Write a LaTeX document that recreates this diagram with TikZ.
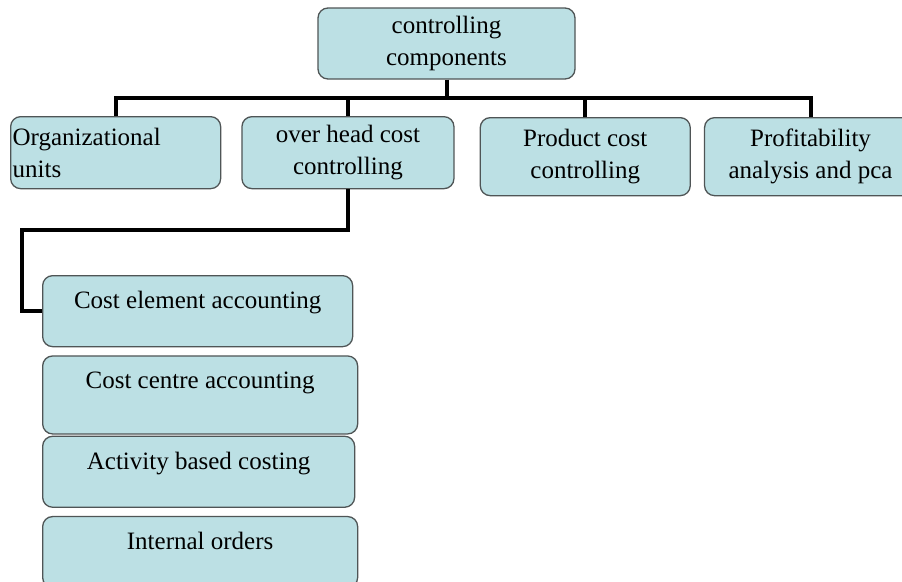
\documentclass[tikz,border=0pt]{standalone}
\usepackage{fontspec}
\setmainfont{Liberation Serif}
\usepackage{tikz}
\usetikzlibrary{positioning}
\definecolor{Slate}{HTML}{4F5556}
\definecolor{Ice}{HTML}{BCE0E4}
\colorlet{boxline}{Slate}
\colorlet{boxfill}{Ice}

\begin{document}
\begin{tikzpicture}[x=1pt,y=1pt,every node/.style={font=\fontsize{25}{32}\selectfont,align=center},
box/.style={draw=boxline,fill=boxfill,line width=1.3pt,rounded corners=10pt,inner sep=2pt},
stackbox/.style={box,minimum width=#1,text height=29pt,inner ysep=4pt,anchor=north west},
link/.style={line width=4pt}]
\clip (0,0) rectangle (902,-581);
\node[box,minimum width=257pt,minimum height=71pt] (ctrl) at (446.5,-43.5) {controlling\\components};
\node[box,align=left,text width=206pt,minimum height=72pt,anchor=north west] (org) at (10,-116) {Organizational\\units};
\node[box,minimum width=212pt,minimum height=72pt,right=20pt of org.north east,anchor=north west] (ohc) {over head cost\\controlling};
\node[box,minimum width=210pt,minimum height=78pt,right=25pt of ohc.north east,anchor=north west,yshift=-1pt] (pcc) {Product cost\\controlling};
\node[box,minimum width=212pt,minimum height=78pt,right=13pt of pcc.north east,anchor=north west] (pa) {Profitability\\analysis and pca};
\node[stackbox=310pt,text depth=34pt] (cea) at (42,-275) {Cost element accounting};
\node[stackbox=315pt,text depth=41pt,below=8pt of cea.south west,anchor=north west] (cca) {Cost centre accounting};
\node[stackbox=312pt,text depth=34pt,below=1pt of cca.south west,anchor=north west] (abc) {Activity based costing};
\node[stackbox=315pt,text depth=34pt,below=8pt of abc.south west,anchor=north west] (io) {Internal orders};
\coordinate (rail) at (0,-98);
\coordinate (elbow) at (22,-230);
\draw[link] (ctrl.south) -- (ctrl.south |- rail);
\draw[link] (org.north) -- (org.north |- rail) -- (pa.north |- rail) -- (pa.north);
\draw[link] (ohc.north) -- (ohc.north |- rail);
\draw[link] (pcc.north) -- (pcc.north |- rail);
\draw[link] (ohc.south) |- (elbow) |- (cea.west);
\end{tikzpicture}
\end{document}
